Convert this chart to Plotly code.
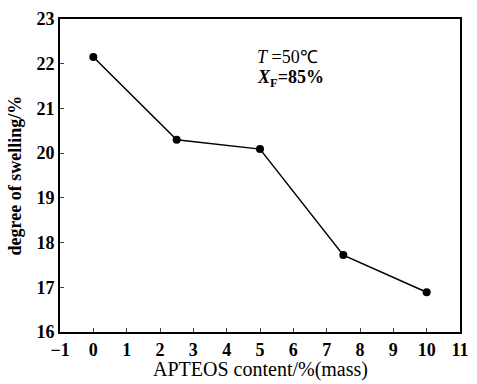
import plotly.graph_objects as go

apteos = [0, 2.5, 5, 7.5, 10]
swelling = [22.15, 20.3, 20.09, 17.72, 16.89]
x_ticks = list(range(-1, 12))
y_ticks = list(range(16, 24))
x_labels = [str(v).replace("-", "−") for v in x_ticks]

fig = go.Figure()
fig.add_trace(go.Scatter(
    x=apteos, y=swelling, mode="lines+markers",
    line=dict(color="black", width=1.5),
    marker=dict(color="black", size=8),
    showlegend=False,
))

font = "Liberation Serif"
fig.update_layout(
    width=477, height=384,
    margin=dict(l=60, r=8, t=19, b=52),
    paper_bgcolor="white", plot_bgcolor="white",
    font=dict(family=font, color="black", size=16),
    xaxis=dict(
        range=[-1, 11], tickvals=x_ticks, ticktext=x_labels,
        ticks="inside", ticklen=4,
        showline=True, linecolor="black", linewidth=2, mirror=True,
        showgrid=False, zeroline=False,
        tickfont=dict(family=font, size=18, weight="bold"),
    ),
    yaxis=dict(
        range=[16, 23], tickvals=y_ticks, ticks="inside", ticklen=4,
        showline=True, linecolor="black", linewidth=2, mirror=True,
        showgrid=False, zeroline=False,
        tickfont=dict(family=font, size=18, weight="bold"),
    ),
    annotations=[
        dict(x=4.85, y=22.15, xref="x", yref="y", xanchor="left", showarrow=False,
             text="<i>T</i> =50℃", font=dict(family=font, size=18)),
        dict(x=4.85, y=21.66, xref="x", yref="y", xanchor="left", showarrow=False,
             text="<b><i>X</i><sub>F</sub>=85%</b>", font=dict(family=font, size=18)),
        dict(x=0.5, y=-0.121, xref="paper", yref="paper", xanchor="center", yanchor="middle",
             showarrow=False, text="APTEOS content/%(mass)", font=dict(family=font, size=20)),
        dict(x=-0.115, y=0.5, xref="paper", yref="paper", xanchor="center", yanchor="middle",
             showarrow=False, textangle=-90, text="<b>degree of swelling/%</b>",
             font=dict(family=font, size=18)),
    ],
)

fig.write_html("out.html", config={"displayModeBar": False},
               post_script="document.body.style.margin='0';")
